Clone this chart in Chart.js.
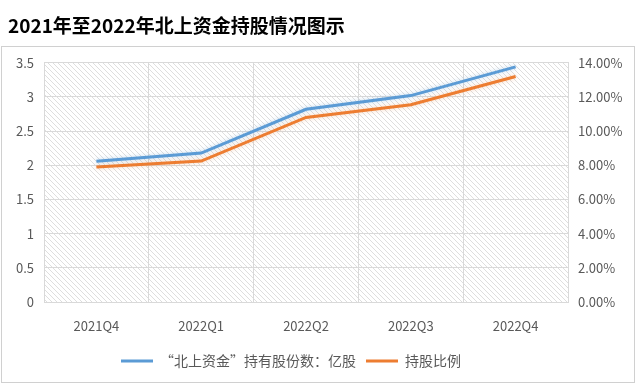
<!DOCTYPE html>
<html>
<head>
<meta charset="utf-8">
<script src="https://cdn.jsdelivr.net/npm/chart.js@4/dist/chart.umd.min.js"></script>
<style>
  html, body { margin: 0; padding: 0; background: #fff; }
  #wrap { width: 640px; height: 385px; position: relative; }
</style>
</head>
<body>
<div id="wrap"><canvas id="c"></canvas></div>
<script>
const quarters = ["2021Q4", "2022Q1", "2022Q2", "2022Q3", "2022Q4"];
const sharesHeld = [2.06, 2.18, 2.82, 3.02, 3.44]; // 亿股
const holdingRatio = [7.9, 8.25, 10.8, 11.55, 13.2]; // %
const seriesNames = ["“北上资金”持有股份数：亿股", "持股比例"];
const titleText = "2021年至2022年北上资金持股情况图示";

const FONT = "'Noto Sans CJK SC', 'Noto Sans', sans-serif";
const TEXT_COLOR = "#595959";
const GRID_COLOR = "#d9d9d9";

function makeHatch() {
  const s = 5;
  const c = document.createElement("canvas");
  c.width = s;
  c.height = s;
  const g = c.getContext("2d");
  g.strokeStyle = "#dedede";
  g.lineWidth = 1;
  g.beginPath();
  g.moveTo(0, 0);
  g.lineTo(s, s);
  g.moveTo(-1, s - 1);
  g.lineTo(1, s + 1);
  g.moveTo(s - 1, -1);
  g.lineTo(s + 1, 1);
  g.stroke();
  return g.createPattern(c, "repeat");
}

const hatchPlugin = {
  id: "hatch",
  afterLayout(chart) {
    // legend sits a little left of centre in the original
    chart.legend.left = 16;
    chart.legend.right = 566;
  },
  beforeDraw(chart) {
    const { ctx, chartArea: a } = chart;
    ctx.save();
    ctx.fillStyle = makeHatch();
    ctx.fillRect(a.left, a.top, a.right - a.left, a.bottom - a.top);
    ctx.restore();
  },
  afterDraw(chart) {
    const ctx = chart.ctx;
    ctx.save();
    ctx.strokeStyle = "#d0d0d0";
    ctx.lineWidth = 1;
    ctx.strokeRect(1.5, 46.5, 633, 336);
    ctx.restore();
  },
};

const glowPlugin = {
  id: "glow",
  beforeDatasetDraw(chart, args) {
    const ctx = chart.ctx;
    ctx.save();
    ctx.shadowColor = args.index === 0 ? "rgba(91,155,213,0.35)" : "rgba(237,125,49,0.3)";
    ctx.shadowBlur = 4;
  },
  afterDatasetDraw(chart) {
    chart.ctx.restore();
  },
};

new Chart(document.getElementById("c"), {
  type: "line",
  data: {
    labels: quarters,
    datasets: [
      {
        label: seriesNames[0],
        data: sharesHeld,
        yAxisID: "y",
        borderColor: "#5b9bd5",
        backgroundColor: "#5b9bd5",
        borderWidth: 3,
        pointRadius: 0,
        tension: 0,
      },
      {
        label: seriesNames[1],
        data: holdingRatio,
        yAxisID: "y2",
        borderColor: "#ed7d31",
        backgroundColor: "#ed7d31",
        borderWidth: 3,
        pointRadius: 0,
        tension: 0,
      },
    ],
  },
  options: {
    responsive: true,
    maintainAspectRatio: false,
    animation: false,
    layout: { padding: { left: 8, right: 0, top: 0, bottom: 7 } },
    plugins: {
      title: {
        display: true,
        text: titleText,
        align: "start",
        color: "#000",
        font: { family: FONT, size: 19, weight: "bold" },
        padding: { top: 14, bottom: 26 },
      },
      legend: {
        position: "bottom",
        labels: {
          color: TEXT_COLOR,
          font: { family: FONT, size: 14 },
          boxWidth: 32,
          boxHeight: 3,
          padding: 10,
          generateLabels: (chart) =>
            Chart.defaults.plugins.legend.labels
              .generateLabels(chart)
              .map((l) => ({ ...l, lineWidth: 0 })),
        },
      },
      tooltip: { enabled: false },
    },
    scales: {
      x: {
        offset: true,
        grid: { offset: true, color: GRID_COLOR, drawTicks: false },
        border: { color: GRID_COLOR },
        ticks: { color: TEXT_COLOR, font: { family: FONT, size: 13 }, padding: 16 },
        afterFit(s) { s.height = 42; },
      },
      y: {
        position: "left",
        min: 0,
        max: 3.5,
        ticks: {
          stepSize: 0.5,
          color: TEXT_COLOR,
          font: { family: FONT, size: 13 },
          padding: 10,
          callback: (v) => String(Math.round(v * 10) / 10),
        },
        grid: { color: GRID_COLOR, drawTicks: false },
        border: { color: GRID_COLOR },
        afterFit(s) { s.width = 36; },
      },
      y2: {
        position: "right",
        min: 0,
        max: 14,
        ticks: {
          stepSize: 2,
          color: TEXT_COLOR,
          font: { family: FONT, size: 13 },
          padding: 10,
          callback: (v) => v.toFixed(2) + "%",
        },
        grid: { display: false, drawTicks: false },
        border: { color: GRID_COLOR },
        afterFit(s) { s.width = 72; },
      },
    },
  },
  plugins: [hatchPlugin, glowPlugin],
});
</script>
</body>
</html>
